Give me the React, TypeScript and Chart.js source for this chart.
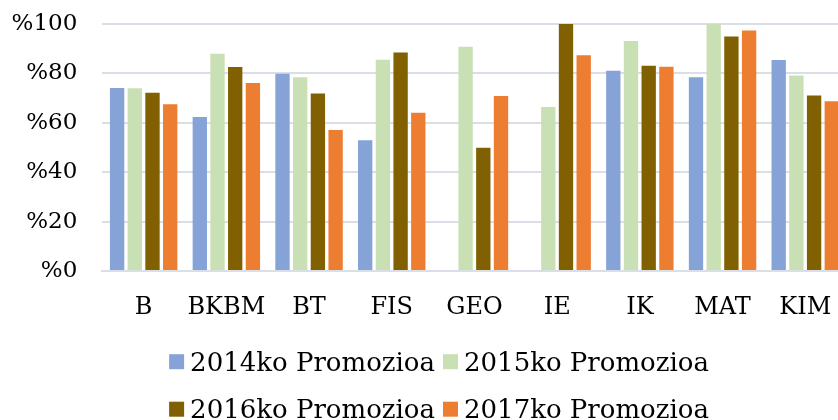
import React, { useEffect, useRef } from "react";
import { Chart, registerables } from "chart.js";

Chart.register(...registerables);

const categories = ["B", "BKBM", "BT", "FIS", "GEO", "IE", "IK", "MAT", "KIM"];
const seriesNames = ["2014ko Promozioa", "2015ko Promozioa", "2016ko Promozioa", "2017ko Promozioa"];
const values2014 = [74.1, 62.3, 79.9, 52.9, 0, 0, 81.1, 78.4, 85.4];
const values2015 = [74.0, 88.0, 78.4, 85.5, 90.8, 66.4, 93.1, 100, 79.1];
const values2016 = [72.2, 82.6, 71.9, 88.5, 49.9, 100, 83.1, 94.9, 71.1];
const values2017 = [67.5, 76.1, 57.1, 64.1, 70.9, 87.3, 82.7, 97.4, 68.7];
const yTicks = [0, 20, 40, 60, 80, 100];
const colors = ["#86a3d8", "#c9e0b4", "#806000", "#ed7d31"];

const legendPlugin = {
  id: "customLegend",
  afterDraw(chart: any) {
    const ctx = chart.ctx;
    const ds = chart.data.datasets;
    ctx.save();
    ctx.font = "26px 'DejaVu Serif'";
    ctx.textBaseline = "alphabetic";
    ctx.textAlign = "left";
    const box = 15;
    const gapText = 6;
    const gapItem = 8;
    const rowBaseline = [370.7, 418.2];
    const centerX = chart.width / 2 - 1;
    for (let r = 0; r < 2; r++) {
      const items = [ds[r * 2], ds[r * 2 + 1]];
      const widths = items.map((d: any) => box + gapText + ctx.measureText(d.label).width);
      const total = widths[0] + gapItem + widths[1];
      let x = centerX - total / 2;
      const base = rowBaseline[r];
      items.forEach((d: any, i: number) => {
        ctx.fillStyle = d.backgroundColor;
        ctx.fillRect(x, base - 16.5, box, box);
        ctx.fillStyle = "#000";
        ctx.fillText(d.label, x + box + gapText, base);
        x += widths[i] + gapItem;
      });
    }
    ctx.restore();
  },
};

export default function App() {
  const ref = useRef<HTMLCanvasElement | null>(null);

  useEffect(() => {
    if (!ref.current) return;
    const all = [values2014, values2015, values2016, values2017];
    const chart = new Chart(ref.current, {
      type: "bar",
      data: {
        labels: categories,
        datasets: all.map((v, i) => ({
          label: seriesNames[i],
          data: v,
          backgroundColor: colors[i],
          borderWidth: 0,
          categoryPercentage: 0.856,
          barPercentage: 0.81,
        })),
      },
      options: {
        responsive: false,
        animation: false,
        layout: { padding: { left: 0, right: 33.4, top: 24, bottom: 104 } },
        plugins: {
          tooltip: { enabled: false },
          legend: { display: false },
        },
        scales: {
          x: {
            grid: { display: false },
            border: { display: true, color: "#d9dee7", width: 2 },
            ticks: {
              color: "#000",
              font: { family: "DejaVu Serif", size: 24 },
              padding: 14,
              maxRotation: 0,
              autoSkip: false,
            },
            afterFit: (s: any) => {
              s.height = 56;
            },
          },
          y: {
            min: 0,
            max: 100,
            afterBuildTicks: (s: any) => {
              s.ticks = yTicks.map((v) => ({ value: v }));
            },
            grid: { color: "#d9dee7", lineWidth: 2, drawTicks: true, tickLength: 22, tickColor: "rgba(0,0,0,0)" },
            border: { display: false },
            ticks: {
              color: "#000",
              font: { family: "DejaVu Serif", size: 23 },
              padding: 3,
              callback: (v: any) => "%" + v,
            },
            afterFit: (s: any) => {
              s.width = 102.3;
            },
          },
        },
      },
      plugins: [legendPlugin],
    });
    return () => chart.destroy();
  }, []);

  return (
    <div style={{ position: "fixed", left: 0, top: 0, width: 838, height: 420, overflow: "hidden", background: "#fff" }}>
      <canvas ref={ref} width={880} height={431} style={{ display: "block" }} />
    </div>
  );
}
